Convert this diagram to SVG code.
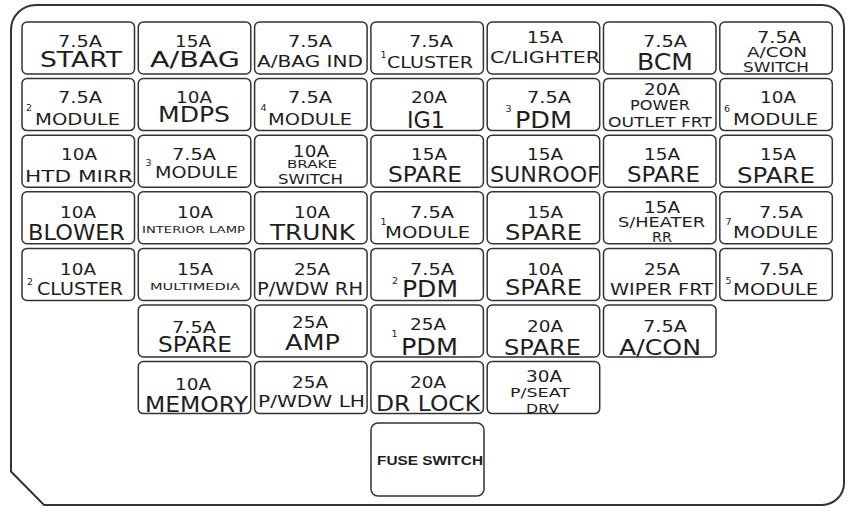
<svg xmlns="http://www.w3.org/2000/svg" width="854" height="511" viewBox="0 0 854 511">
<style>
.frame{fill:#fff;stroke:#333;stroke-width:2}
.box{fill:#fff;stroke:#333;stroke-width:1.5}
text{font-family:"DejaVu Sans","Liberation Sans",sans-serif;fill:#1e1e1e}
.a{font-size:16px}
.L{font-size:20.5px}
.X{font-size:23px}
.M{font-size:16px}
.s{font-size:13.7px}
.xs{font-size:9.5px}
.sup{font-size:9.5px}
.fs{font-family:"Liberation Sans",Arial,sans-serif;font-weight:bold;font-size:13.5px}
</style>
<rect width="854" height="511" fill="#fff"/>
<path class="frame" d="M11 471.5 L11 30 A25 25 0 0 1 36 5 L822 5 A22 22 0 0 1 844 27 L844 483 A22 22 0 0 1 822 505 L44 505 Z"/>

<g id="f-r1c1"><rect class="box" x="22" y="22" width="112.5" height="52" rx="5"/>
<text class="a" x="58" y="46.7" textLength="44" lengthAdjust="spacingAndGlyphs">7.5A</text>
<text class="L" x="40" y="66.7" textLength="82" lengthAdjust="spacingAndGlyphs">START</text></g>
<g id="f-r1c2"><rect class="box" x="138.3" y="22" width="112.5" height="52" rx="5"/>
<text class="a" x="175" y="46.7" textLength="36" lengthAdjust="spacingAndGlyphs">15A</text>
<text class="L" x="150" y="66.7" textLength="90" lengthAdjust="spacingAndGlyphs">A/BAG</text></g>
<g id="f-r1c3"><rect class="box" x="254.6" y="22" width="112.5" height="52" rx="5"/>
<text class="a" x="288" y="46.7" textLength="44" lengthAdjust="spacingAndGlyphs">7.5A</text>
<text x="257" y="66.7" font-size="15" textLength="106" lengthAdjust="spacingAndGlyphs">A/BAG IND</text></g>
<g id="f-r1c4"><rect class="box" x="370.9" y="22" width="112.5" height="52" rx="5"/>
<text class="a" x="409" y="46.7" textLength="44" lengthAdjust="spacingAndGlyphs">7.5A</text>
<text><tspan class="sup" x="380.5" y="58">1</tspan><tspan class="M" x="387" y="68.3" textLength="86" lengthAdjust="spacingAndGlyphs">CLUSTER</tspan></text></g>
<g id="f-r1c5"><rect class="box" x="487.2" y="22" width="112.5" height="52" rx="5"/>
<text class="a" x="527" y="43.3" textLength="36" lengthAdjust="spacingAndGlyphs">15A</text>
<text class="M" x="490" y="63.3" textLength="110" lengthAdjust="spacingAndGlyphs">C/LIGHTER</text></g>
<g id="f-r1c6"><rect class="box" x="603.5" y="22" width="112.5" height="52" rx="5"/>
<text class="a" x="643" y="46.7" textLength="44" lengthAdjust="spacingAndGlyphs">7.5A</text>
<text class="X" x="637" y="70" textLength="56" lengthAdjust="spacingAndGlyphs">BCM</text></g>
<g id="f-r1c7"><rect class="box" x="719.8" y="22" width="112.5" height="52" rx="5"/>
<text class="a" x="757" y="43.3" textLength="44" lengthAdjust="spacingAndGlyphs">7.5A</text>
<text class="s" x="747" y="56.7" textLength="60" lengthAdjust="spacingAndGlyphs">A/CON</text>
<text class="s" x="743" y="71.7" textLength="66" lengthAdjust="spacingAndGlyphs">SWITCH</text></g>

<g id="f-r2c1"><rect class="box" x="22" y="78.6" width="112.5" height="52" rx="5"/>
<text class="a" x="58" y="103.3" textLength="44" lengthAdjust="spacingAndGlyphs">7.5A</text>
<text><tspan class="sup" x="26" y="111">2</tspan><tspan class="M" x="35" y="125" textLength="85" lengthAdjust="spacingAndGlyphs">MODULE</tspan></text></g>
<g id="f-r2c2"><rect class="box" x="138.3" y="78.6" width="112.5" height="52" rx="5"/>
<text class="a" x="176" y="103" textLength="36" lengthAdjust="spacingAndGlyphs">10A</text>
<text x="158" y="121.7" font-size="21.5" textLength="72" lengthAdjust="spacingAndGlyphs">MDPS</text></g>
<g id="f-r2c3"><rect class="box" x="254.6" y="78.6" width="112.5" height="52" rx="5"/>
<text class="a" x="288" y="103.3" textLength="44" lengthAdjust="spacingAndGlyphs">7.5A</text>
<text><tspan class="sup" x="260.5" y="111">4</tspan><tspan class="M" x="268" y="125" textLength="84" lengthAdjust="spacingAndGlyphs">MODULE</tspan></text></g>
<g id="f-r2c4"><rect class="box" x="370.9" y="78.6" width="112.5" height="52" rx="5"/>
<text class="a" x="411" y="103" textLength="36" lengthAdjust="spacingAndGlyphs">20A</text>
<text class="X" x="407" y="128.3" textLength="38" lengthAdjust="spacingAndGlyphs">IG1</text></g>
<g id="f-r2c5"><rect class="box" x="487.2" y="78.6" width="112.5" height="52" rx="5"/>
<text class="a" x="527" y="103" textLength="44" lengthAdjust="spacingAndGlyphs">7.5A</text>
<text><tspan class="sup" x="505.5" y="112">3</tspan><tspan class="X" x="515" y="128.3" textLength="57" lengthAdjust="spacingAndGlyphs">PDM</tspan></text></g>
<g id="f-r2c6"><rect class="box" x="603.5" y="78.6" width="112.5" height="52" rx="5"/>
<text class="a" x="644" y="95" textLength="36" lengthAdjust="spacingAndGlyphs">20A</text>
<text class="s" x="630" y="110" textLength="60" lengthAdjust="spacingAndGlyphs">POWER</text>
<text class="s" x="608" y="126.7" textLength="104" lengthAdjust="spacingAndGlyphs">OUTLET FRT</text></g>
<g id="f-r2c7"><rect class="box" x="719.8" y="78.6" width="112.5" height="52" rx="5"/>
<text class="a" x="760" y="103" textLength="36" lengthAdjust="spacingAndGlyphs">10A</text>
<text><tspan class="sup" x="724" y="112">6</tspan><tspan class="M" x="733" y="125" textLength="85" lengthAdjust="spacingAndGlyphs">MODULE</tspan></text></g>

<g id="f-r3c1"><rect class="box" x="22" y="135.2" width="112.5" height="52" rx="5"/>
<text class="a" x="61" y="160" textLength="36" lengthAdjust="spacingAndGlyphs">10A</text>
<text x="25" y="181.7" font-size="16.5" textLength="108" lengthAdjust="spacingAndGlyphs">HTD MIRR</text></g>
<g id="f-r3c2"><rect class="box" x="138.3" y="135.2" width="112.5" height="52" rx="5"/>
<text class="a" x="172" y="160" textLength="44" lengthAdjust="spacingAndGlyphs">7.5A</text>
<text><tspan class="sup" x="145.5" y="166">3</tspan><tspan class="M" x="155" y="178" textLength="83" lengthAdjust="spacingAndGlyphs">MODULE</tspan></text></g>
<g id="f-r3c3"><rect class="box" x="254.6" y="135.2" width="112.5" height="52" rx="5"/>
<text class="a" x="293" y="157" textLength="36" lengthAdjust="spacingAndGlyphs">10A</text>
<text x="287" y="168" font-size="10" textLength="50" lengthAdjust="spacingAndGlyphs">BRAKE</text>
<text x="278" y="184" font-size="14" textLength="65" lengthAdjust="spacingAndGlyphs">SWITCH</text></g>
<g id="f-r3c4"><rect class="box" x="370.9" y="135.2" width="112.5" height="52" rx="5"/>
<text class="a" x="411" y="160" textLength="36" lengthAdjust="spacingAndGlyphs">15A</text>
<text class="L" x="388" y="181.7" textLength="74" lengthAdjust="spacingAndGlyphs">SPARE</text></g>
<g id="f-r3c5"><rect class="box" x="487.2" y="135.2" width="112.5" height="52" rx="5"/>
<text class="a" x="527" y="160" textLength="36" lengthAdjust="spacingAndGlyphs">15A</text>
<text class="L" x="490" y="181.7" textLength="110" lengthAdjust="spacingAndGlyphs">SUNROOF</text></g>
<g id="f-r3c6"><rect class="box" x="603.5" y="135.2" width="112.5" height="52" rx="5"/>
<text class="a" x="644" y="160" textLength="36" lengthAdjust="spacingAndGlyphs">15A</text>
<text class="L" x="627" y="181.7" textLength="73" lengthAdjust="spacingAndGlyphs">SPARE</text></g>
<g id="f-r3c7"><rect class="box" x="719.8" y="135.2" width="112.5" height="52" rx="5"/>
<text class="a" x="760" y="160" textLength="36" lengthAdjust="spacingAndGlyphs">15A</text>
<text class="L" x="737" y="183.3" textLength="78" lengthAdjust="spacingAndGlyphs">SPARE</text></g>

<g id="f-r4c1"><rect class="box" x="22" y="191.8" width="112.5" height="52" rx="5"/>
<text class="a" x="60" y="218.3" textLength="36" lengthAdjust="spacingAndGlyphs">10A</text>
<text class="L" x="28" y="240" textLength="97" lengthAdjust="spacingAndGlyphs">BLOWER</text></g>
<g id="f-r4c2"><rect class="box" x="138.3" y="191.8" width="112.5" height="52" rx="5"/>
<text class="a" x="177" y="218.3" textLength="36" lengthAdjust="spacingAndGlyphs">10A</text>
<text class="xs" x="142" y="233.3" textLength="103" lengthAdjust="spacingAndGlyphs">INTERIOR LAMP</text></g>
<g id="f-r4c3"><rect class="box" x="254.6" y="191.8" width="112.5" height="52" rx="5"/>
<text class="a" x="294" y="218.3" textLength="36" lengthAdjust="spacingAndGlyphs">10A</text>
<text class="L" x="270" y="240" textLength="85" lengthAdjust="spacingAndGlyphs">TRUNK</text></g>
<g id="f-r4c4"><rect class="box" x="370.9" y="191.8" width="112.5" height="52" rx="5"/>
<text class="a" x="410" y="218.3" textLength="44" lengthAdjust="spacingAndGlyphs">7.5A</text>
<text><tspan class="sup" x="380.5" y="225">1</tspan><tspan class="M" x="385" y="238.3" textLength="85" lengthAdjust="spacingAndGlyphs">MODULE</tspan></text></g>
<g id="f-r4c5"><rect class="box" x="487.2" y="191.8" width="112.5" height="52" rx="5"/>
<text class="a" x="527" y="218.3" textLength="36" lengthAdjust="spacingAndGlyphs">15A</text>
<text class="L" x="505" y="240" textLength="77" lengthAdjust="spacingAndGlyphs">SPARE</text></g>
<g id="f-r4c6"><rect class="box" x="603.5" y="191.8" width="112.5" height="52" rx="5"/>
<text class="a" x="644" y="213.3" textLength="36" lengthAdjust="spacingAndGlyphs">15A</text>
<text class="s" x="618" y="226.7" textLength="87" lengthAdjust="spacingAndGlyphs">S/HEATER</text>
<text class="s" x="652" y="241.7" textLength="20" lengthAdjust="spacingAndGlyphs">RR</text></g>
<g id="f-r4c7"><rect class="box" x="719.8" y="191.8" width="112.5" height="52" rx="5"/>
<text class="a" x="759" y="218.3" textLength="44" lengthAdjust="spacingAndGlyphs">7.5A</text>
<text><tspan class="sup" x="725.5" y="225">7</tspan><tspan class="M" x="733" y="238.3" textLength="85" lengthAdjust="spacingAndGlyphs">MODULE</tspan></text></g>

<g id="f-r5c1"><rect class="box" x="22" y="248.4" width="112.5" height="52" rx="5"/>
<text class="a" x="60" y="275" textLength="36" lengthAdjust="spacingAndGlyphs">10A</text>
<text><tspan class="sup" x="27" y="285">2</tspan><tspan x="37" y="295" font-size="17" textLength="86" lengthAdjust="spacingAndGlyphs">CLUSTER</tspan></text></g>
<g id="f-r5c2"><rect class="box" x="138.3" y="248.4" width="112.5" height="52" rx="5"/>
<text class="a" x="177" y="275" textLength="36" lengthAdjust="spacingAndGlyphs">15A</text>
<text class="xs" x="150" y="290" textLength="90" lengthAdjust="spacingAndGlyphs">MULTIMEDIA</text></g>
<g id="f-r5c3"><rect class="box" x="254.6" y="248.4" width="112.5" height="52" rx="5"/>
<text class="a" x="294" y="275" textLength="36" lengthAdjust="spacingAndGlyphs">25A</text>
<text x="257" y="295" font-size="17" textLength="106" lengthAdjust="spacingAndGlyphs">P/WDW RH</text></g>
<g id="f-r5c4"><rect class="box" x="370.9" y="248.4" width="112.5" height="52" rx="5"/>
<text class="a" x="410" y="275" textLength="44" lengthAdjust="spacingAndGlyphs">7.5A</text>
<text><tspan class="sup" x="392" y="284">2</tspan><tspan class="X" x="402" y="296.7" textLength="56" lengthAdjust="spacingAndGlyphs">PDM</tspan></text></g>
<g id="f-r5c5"><rect class="box" x="487.2" y="248.4" width="112.5" height="52" rx="5"/>
<text class="a" x="527" y="275" textLength="36" lengthAdjust="spacingAndGlyphs">10A</text>
<text class="L" x="505" y="295" textLength="77" lengthAdjust="spacingAndGlyphs">SPARE</text></g>
<g id="f-r5c6"><rect class="box" x="603.5" y="248.4" width="112.5" height="52" rx="5"/>
<text class="a" x="644" y="275" textLength="36" lengthAdjust="spacingAndGlyphs">25A</text>
<text class="M" x="610" y="295" textLength="103" lengthAdjust="spacingAndGlyphs">WIPER FRT</text></g>
<g id="f-r5c7"><rect class="box" x="719.8" y="248.4" width="112.5" height="52" rx="5"/>
<text class="a" x="759" y="275" textLength="44" lengthAdjust="spacingAndGlyphs">7.5A</text>
<text><tspan class="sup" x="725.5" y="284">5</tspan><tspan class="M" x="733" y="295" textLength="85" lengthAdjust="spacingAndGlyphs">MODULE</tspan></text></g>

<g id="f-r6c2"><rect class="box" x="138.3" y="305" width="112.5" height="52" rx="5"/>
<text class="a" x="172" y="333.3" textLength="44" lengthAdjust="spacingAndGlyphs">7.5A</text>
<text class="L" x="158" y="352.3" textLength="74" lengthAdjust="spacingAndGlyphs">SPARE</text></g>
<g id="f-r6c3"><rect class="box" x="254.6" y="305" width="112.5" height="52" rx="5"/>
<text class="a" x="292" y="328.3" textLength="36" lengthAdjust="spacingAndGlyphs">25A</text>
<text x="285" y="350" font-size="21" textLength="55" lengthAdjust="spacingAndGlyphs">AMP</text></g>
<g id="f-r6c4"><rect class="box" x="370.9" y="305" width="112.5" height="52" rx="5"/>
<text class="a" x="410" y="330" textLength="36" lengthAdjust="spacingAndGlyphs">25A</text>
<text><tspan class="sup" x="391.5" y="337">1</tspan><tspan class="X" x="401" y="355" textLength="57" lengthAdjust="spacingAndGlyphs">PDM</tspan></text></g>
<g id="f-r6c5"><rect class="box" x="487.2" y="305" width="112.5" height="52" rx="5"/>
<text class="a" x="527" y="331.7" textLength="36" lengthAdjust="spacingAndGlyphs">20A</text>
<text class="L" x="504" y="355" textLength="77" lengthAdjust="spacingAndGlyphs">SPARE</text></g>
<g id="f-r6c6"><rect class="box" x="603.5" y="305" width="112.5" height="52" rx="5"/>
<text class="a" x="643" y="331.7" textLength="44" lengthAdjust="spacingAndGlyphs">7.5A</text>
<text x="619" y="355" font-size="21" textLength="82" lengthAdjust="spacingAndGlyphs">A/CON</text></g>

<g id="f-r7c2"><rect class="box" x="138.3" y="361.6" width="112.5" height="52" rx="5"/>
<text class="a" x="175" y="390" textLength="36" lengthAdjust="spacingAndGlyphs">10A</text>
<text x="145" y="411.7" font-size="21" textLength="103" lengthAdjust="spacingAndGlyphs">MEMORY</text></g>
<g id="f-r7c3"><rect class="box" x="254.6" y="361.6" width="112.5" height="52" rx="5"/>
<text class="a" x="292" y="388.3" textLength="36" lengthAdjust="spacingAndGlyphs">25A</text>
<text x="258" y="406.7" font-size="15" textLength="107" lengthAdjust="spacingAndGlyphs">P/WDW LH</text></g>
<g id="f-r7c4"><rect class="box" x="370.9" y="361.6" width="112.5" height="52" rx="5"/>
<text class="a" x="410" y="388.3" textLength="36" lengthAdjust="spacingAndGlyphs">20A</text>
<text x="376" y="410.5" font-size="21" textLength="104" lengthAdjust="spacingAndGlyphs">DR LOCK</text></g>
<g id="f-r7c5"><rect class="box" x="487.2" y="361.6" width="112.5" height="52" rx="5"/>
<text class="a" x="526" y="381.7" textLength="36" lengthAdjust="spacingAndGlyphs">30A</text>
<text x="510" y="396.7" font-size="13" textLength="60" lengthAdjust="spacingAndGlyphs">P/SEAT</text>
<text x="526" y="413.3" font-size="13" textLength="33" lengthAdjust="spacingAndGlyphs">DRV</text></g>

<g id="fuse-switch"><rect class="box" x="371" y="423" width="113" height="73" rx="7"/>
<text class="fs" x="377" y="465" textLength="106" lengthAdjust="spacingAndGlyphs">FUSE SWITCH</text></g>
</svg>
